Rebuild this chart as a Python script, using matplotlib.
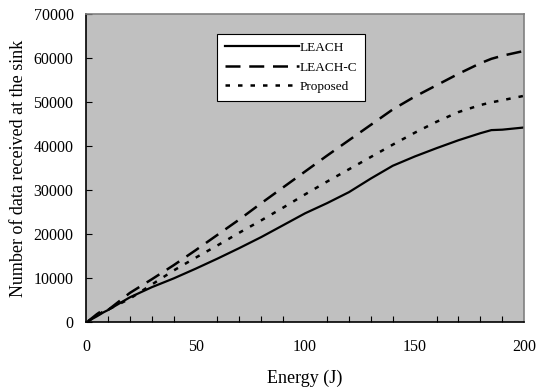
import matplotlib
matplotlib.use("Agg")
import matplotlib.pyplot as plt

# energy (J) and data received at the sink
energy = [1, 5, 8, 10, 20, 30, 40, 50, 60, 70, 80, 90, 100,
          110, 120, 130, 140, 150, 160, 170, 180, 185, 190, 200]
leach = [200, 1300, 2200, 2700, 5600, 7900, 9900, 12100, 14400, 16800, 19300, 22000, 24700,
         27000, 29500, 32600, 35500, 37600, 39500, 41300, 42900, 43600, 43700, 44200]
leach_c = [200, 1800, 2800, 2700, 6600, 9700, 12900, 16300, 19800, 23300, 27000, 30600, 34200,
           37800, 41300, 44800, 48300, 51200, 53800, 56400, 58800, 59800, 60500, 61600]
proposed = [200, 1500, 2400, 2800, 5300, 8500, 11700, 14600, 17400, 20300, 23100, 26000, 29000,
            31900, 34700, 37500, 40300, 43000, 45500, 47700, 49300, 49900, 50400, 51400]

plt.rcParams.update({"font.family": "Liberation Serif", "font.size": 11.5})

fig = plt.figure(figsize=(5.41, 3.87), dpi=100)
ax = fig.add_axes([0.159, 0.168, 0.81, 0.796])
ax.set_facecolor("#c0c0c0")

ax.plot(energy, leach, color="black", lw=1.6, label="LEACH")
ax.plot(energy, leach_c, color="black", lw=1.8, dashes=(6, 3.5), label="LEACH-C")
ax.plot(energy, proposed, color="black", lw=1.8, dashes=(1.8, 3.2), label="Proposed")

ax.set_xlim(0, 200)
ax.set_ylim(0, 70000)
ax.set_xticks(range(0, 201, 50))
ax.set_xticks(range(0, 201, 10), minor=True)
ax.set_yticks(range(0, 70001, 10000))
ax.tick_params(axis="x", which="both", direction="in", length=4, pad=12, width=0.8)
ax.tick_params(axis="y", direction="in", length=4, pad=9, width=0.8)
ax.tick_params(axis="x", which="major", length=0)

for s in ["top", "right"]:
    ax.spines[s].set_color("#808080")
    ax.spines[s].set_linewidth(1.2)
for s in ["left", "bottom"]:
    ax.spines[s].set_color("black")
    ax.spines[s].set_linewidth(1.2)

ax.set_xlabel("Energy (J)", labelpad=11, fontsize=13)
ax.set_ylabel("Number of data received at the sink", labelpad=5, fontsize=13)

leg = ax.legend(loc="upper left", bbox_to_anchor=(0.3, 0.935), fontsize=9.5,
                handlelength=5.6, handletextpad=0.0, frameon=True, fancybox=False,
                borderpad=0.6, labelspacing=0.55, borderaxespad=0)
leg.get_frame().set_edgecolor("black")
leg.get_frame().set_linewidth(0.8)
leg.get_frame().set_facecolor("white")
leg.get_frame().set_alpha(1)

fig.savefig("out.png", dpi=100)
